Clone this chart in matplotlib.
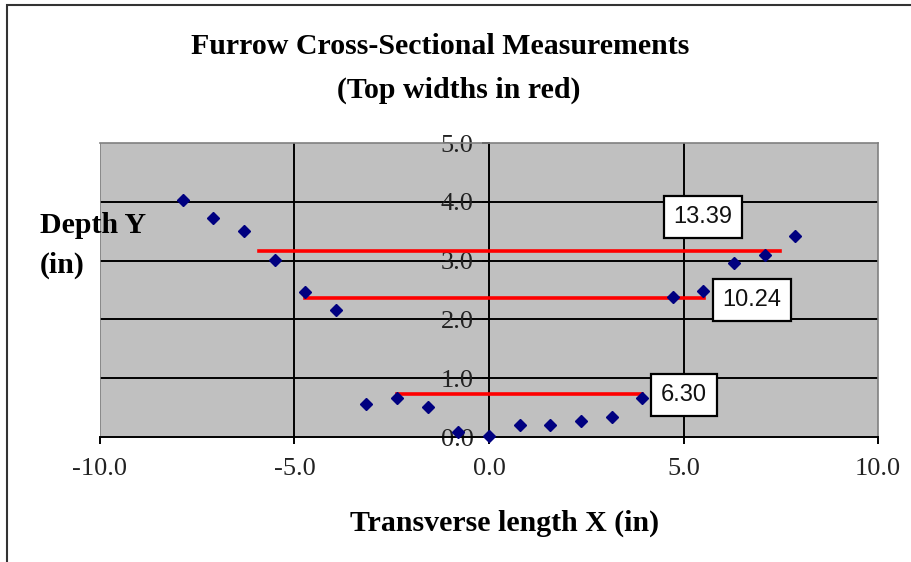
import matplotlib.pyplot as plt
from matplotlib.patches import Rectangle

# furrow profile, x spaced every 2 cm (0.787 in)
x_in = [-7.87, -7.09, -6.30, -5.51, -4.72, -3.94, -3.15, -2.36, -1.57, -0.79, 0.0,
        0.79, 1.57, 2.36, 3.15, 3.94, 4.72, 5.51, 6.30, 7.09, 7.87]
depth_in = [4.03, 3.72, 3.50, 3.01, 2.47, 2.16, 0.56, 0.66, 0.51, 0.09, 0.02,
            0.20, 0.20, 0.27, 0.34, 0.66, 2.38, 2.48, 2.96, 3.10, 3.42]

# top widths: left end, level, width
width_left = [-5.90, -4.72, -2.36]
width_level = [3.17, 2.36, 0.73]
widths = [13.39, 10.24, 6.30]
label_pos = [(5.50, 3.74), (6.76, 2.33), (5.01, 0.71)]

x_ticks = [-10, -5, 0, 5, 10]
y_ticks = [0, 1, 2, 3, 4, 5]

serif = 'Liberation Serif'
big = 21.5

fig = plt.figure(figsize=(9.12, 5.62), dpi=100)
ax = fig.add_axes([100 / 912, 1 - 437 / 562, 778 / 912, 294 / 562])
ax.set_facecolor('#c0c0c0')
ax.set_xlim(-10, 10)
ax.set_ylim(0, 5)

# gridlines
for gx in [-5, 5]:
    ax.axvline(gx, color='black', lw=1.4, zorder=1)
for gy in [1, 2, 3, 4]:
    ax.axhline(gy, color='black', lw=1.4, zorder=1)

# axes through the origin
for s in ['top', 'right']:
    ax.spines[s].set_color('#808080')
    ax.spines[s].set_linewidth(1.2)
ax.spines['left'].set_position(('data', 0))
ax.spines['left'].set_linewidth(1.4)
ax.spines['bottom'].set_linewidth(1.4)
ax.add_line(plt.Line2D([0, 0], [0, 1], transform=ax.transAxes, color='#808080', lw=1.2))
ax.set_xticks(x_ticks)
ax.set_xticklabels(['%.1f' % v for v in x_ticks])
ax.set_yticks(y_ticks)
ax.set_yticklabels(['%.1f' % v for v in y_ticks])
ax.tick_params(axis='both', direction='out', length=5, width=1.4, labelsize=19)
ax.tick_params(axis='x', pad=10)
ax.tick_params(axis='y', pad=6)
for lab in ax.get_xticklabels() + ax.get_yticklabels():
    lab.set_fontfamily(serif)
    lab.set_color('#222222')

ax.plot(x_in, depth_in, linestyle='none', marker='D', markersize=6,
        color='#000080', zorder=4, clip_on=False)

for left, lvl, w, (lx, ly) in zip(width_left, width_level, widths, label_pos):
    ax.plot([left, left + w], [lvl, lvl], color='red', lw=2.6, zorder=3)
    ax.text(lx, ly, '%.2f' % w, ha='center', va='center', fontsize=17,
            family='Liberation Sans', color='#111111', zorder=5,
            bbox=dict(boxstyle='square,pad=0.42', fc='white', ec='black', lw=1.6))

fig.text(440 / 912, 1 - 47 / 562, 'Furrow Cross-Sectional Measurements', ha='center',
         va='center', fontsize=big, fontweight='bold', family=serif)
fig.text(459 / 912, 1 - 90 / 562, '(Top widths in red)', ha='center',
         va='center', fontsize=big, fontweight='bold', family=serif)
fig.text(505 / 912, 1 - 523 / 562, 'Transverse length X (in)', ha='center',
         va='center', fontsize=big, fontweight='bold', family=serif)
fig.text(40 / 912, 1 - 226 / 562, 'Depth Y', ha='left', va='center',
         fontsize=big, fontweight='bold', family=serif)
fig.text(40 / 912, 1 - 265 / 562, '(in)', ha='left', va='center',
         fontsize=big, fontweight='bold', family=serif)

# chart frame
fig.patches.append(Rectangle((7 / 912, -0.1), 1.0, 1 - 5 / 562 + 0.1, transform=fig.transFigure,
                             fill=False, ec='#333333', lw=1.5))

fig.savefig('out.png', dpi=100)
